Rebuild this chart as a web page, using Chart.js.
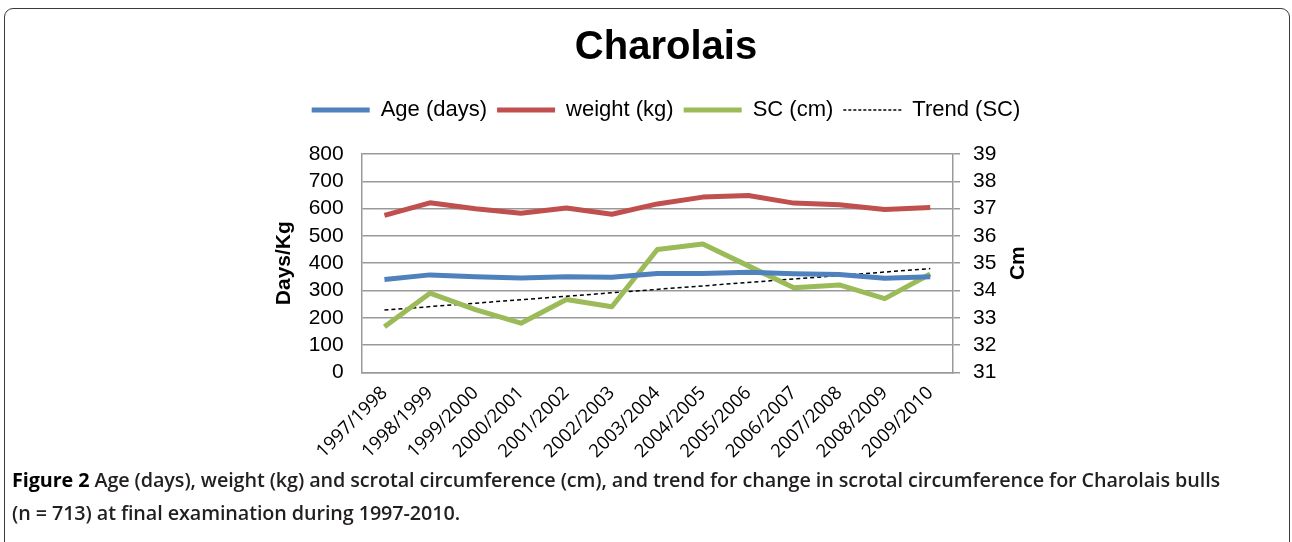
<!DOCTYPE html>
<html>
<head>
<meta charset="utf-8">
<script src="https://cdn.jsdelivr.net/npm/chart.js@4.4.1/dist/chart.umd.min.js"></script>
<style>
  body { margin: 0; background: #fff; width: 1292px; height: 542px; overflow: hidden; position: relative; }
  #frame { position: absolute; left: 4px; top: 8px; width: 1284px; height: 580px; border: 1.5px solid #3a3a3a; border-radius: 9px; }
  #wrap { position: absolute; left: 0; top: 10px; width: 1292px; height: 460px; }
  #caption { position: absolute; left: 12px; top: 463px; width: 1275px; font-family: "Open Sans", sans-serif; font-size: 19.8px; font-weight: 600; line-height: 33px; color: #231f20; letter-spacing: -0.1px; }
  #caption b { font-weight: 700; color: #000; }
</style>
</head>
<body>
<div id="frame"></div>
<div id="wrap"><canvas id="chart"></canvas></div>
<div id="caption"><b>Figure 2</b> Age (days), weight (kg) and scrotal circumference (cm), and trend for change in scrotal circumference for Charolais bulls<br>(n = 713) at final examination during 1997-2010.</div>
<script>
const seasons = ["1997/1998", "1998/1999", "1999/2000", "2000/2001", "2001/2002", "2002/2003", "2003/2004",
  "2004/2005", "2005/2006", "2006/2007", "2007/2008", "2008/2009", "2009/2010"];
const ageDays = [340, 357, 350, 346, 350, 348, 362, 362, 367, 361, 358, 345, 350];
const weightKg = [575, 621, 599, 583, 602, 579, 617, 642, 648, 620, 614, 597, 604];
const scCm = [32.67, 33.9, 33.3, 32.8, 33.67, 33.4, 35.5, 35.7, 34.9, 34.1, 34.2, 33.7, 34.6];
// trend only known at its two ends, the library joins them
const trendSC = [33.28, null, null, null, null, null, null, null, null, null, null, null, 34.8];

const leftTitle = "Days/Kg";
const rightTitle = "Cm";

const tickFont = { family: "Liberation Sans", size: 21 };

// draws the right axis title reading bottom to top, like the left one
const cmLabel = {
  id: "cmLabel",
  afterDraw(chart) {
    const s = chart.scales.y1;
    const ctx = chart.ctx;
    ctx.save();
    ctx.translate(s.left + 65, (s.top + s.bottom) / 2);
    ctx.rotate(-Math.PI / 2);
    ctx.font = 'bold 21px "Liberation Sans"';
    ctx.fillStyle = "#000";
    ctx.textAlign = "center";
    ctx.textBaseline = "middle";
    ctx.fillText(rightTitle, 0, 0);
    ctx.restore();
  }
};

// extra room under the legend
const legendGap = {
  id: "legendGap",
  beforeUpdate(chart) {
    const lg = chart.legend;
    if (!lg || lg._gapPatched) return;
    const fit = lg.fit;
    lg.fit = function () {
      fit.call(this);
      this.height += 23;
    };
    lg._gapPatched = true;
  }
};

function makeLine(label, data, color, axis) {
  return {
    label,
    data,
    yAxisID: axis,
    borderColor: color,
    backgroundColor: color,
    borderWidth: 5,
    pointRadius: 0,
    tension: 0,
    borderJoinStyle: "round",
  };
}

const data = {
  labels: seasons,
  datasets: [
    makeLine("Age (days)", ageDays, "#4f81bd", "y"),
    makeLine("weight (kg)", weightKg, "#c0504d", "y"),
    makeLine("SC (cm)", scCm, "#9bbb59", "y1"),
    {
      label: "Trend (SC)",
      data: trendSC,
      yAxisID: "y1",
      borderColor: "#000",
      backgroundColor: "#000",
      borderWidth: 1.5,
      borderDash: [4, 3],
      pointRadius: 0,
      spanGaps: true,
    },
  ]
};

const options = {
  responsive: true,
  maintainAspectRatio: false,
  animation: false,
  layout: { padding: { left: 272, right: 232, top: 0, bottom: 0 } },
  plugins: {
    tooltip: { enabled: false },
    title: {
      display: true,
      text: "Charolais",
      color: "#000",
      font: { family: "Liberation Sans", size: 40, weight: "bold" },
      padding: { top: 14, bottom: 17 },
    },
    legend: {
      labels: {
        color: "#000",
        font: { family: "Liberation Sans", size: 22 },
        usePointStyle: true,
        pointStyle: "line",
        pointStyleWidth: 58,
        boxHeight: 22,
        padding: 10,
        generateLabels(chart) {
          const items = Chart.defaults.plugins.legend.labels.generateLabels(chart);
          items.forEach(it => {
            const ds = chart.data.datasets[it.datasetIndex];
            if (ds.borderDash) it.lineDash = [3, 2];
          });
          return items;
        }
      }
    }
  },
  scales: {
    x: {
      offset: true,
      grid: { display: false, offset: true },
      border: { display: true, color: "#999", width: 1.5 },
      ticks: {
        color: "#000",
        font: { family: "Open Sans", size: 18.5 },
        minRotation: 45,
        maxRotation: 45,
        autoSkip: false,
        padding: 2,
      },
      afterFit(s) { s.height = 97.7; }
    },
    y: {
      position: "left",
      min: 0,
      max: 800,
      ticks: { stepSize: 100, autoSkip: false, color: "#000", font: tickFont, padding: 18 },
      grid: { color: "#999", lineWidth: 1.5, drawTicks: false },
      border: { color: "#999", width: 1.5 },
      title: {
        display: true,
        text: leftTitle,
        color: "#000",
        font: { family: "Liberation Sans", size: 21, weight: "bold" },
        padding: { top: 0, bottom: 0 },
      },
      afterFit(s) { s.width = 89.7; }
    },
    y1: {
      position: "right",
      min: 31,
      max: 39,
      ticks: { stepSize: 1, autoSkip: false, color: "#000", font: tickFont, padding: 13 },
      grid: { drawOnChartArea: false, color: "#999", lineWidth: 1.5, tickLength: 7 },
      border: { color: "#999", width: 1.5 },
      afterFit(s) { s.width = 107; }
    }
  }
};

new Chart(document.getElementById("chart"), { type: "line", data, options, plugins: [cmLabel, legendGap] });
</script>
</body>
</html>
